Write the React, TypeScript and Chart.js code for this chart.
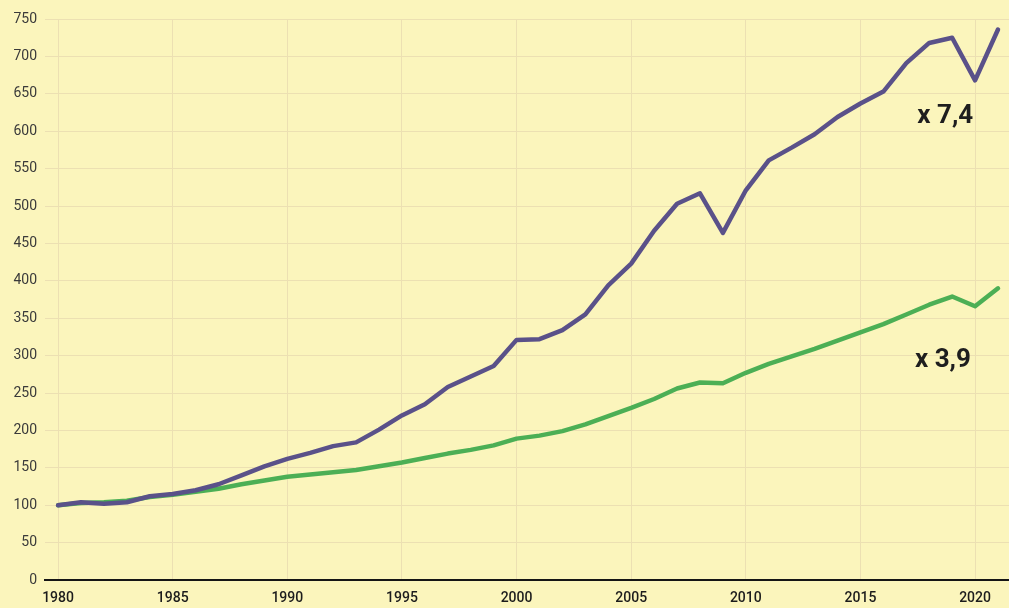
import React, { useEffect, useRef } from "react";
import { Chart, registerables } from "chart.js";

Chart.register(...registerables);

const years = [
  1980, 1981, 1982, 1983, 1984, 1985, 1986, 1987, 1988, 1989,
  1990, 1991, 1992, 1993, 1994, 1995, 1996, 1997, 1998, 1999,
  2000, 2001, 2002, 2003, 2004, 2005, 2006, 2007, 2008, 2009,
  2010, 2011, 2012, 2013, 2014, 2015, 2016, 2017, 2018, 2019,
  2020, 2021,
];

const purpleSeries = [
  100, 104, 102, 104, 112, 115, 120, 128, 140, 152,
  162, 170, 179, 184, 201, 220, 235, 258, 272, 286,
  321, 322, 334, 355, 394, 423, 467, 503, 517, 464,
  521, 561, 578, 596, 619, 637, 653, 691, 718, 725,
  668, 736,
];

const greenSeries = [
  100, 103, 104, 106, 111, 114, 118, 122, 128, 133,
  138, 141, 144, 147, 152, 157, 163, 169, 174, 180,
  189, 193, 199, 208, 219, 230, 242, 256, 264, 263,
  277, 289, 299, 309, 320, 331, 342, 355, 368, 379,
  366, 390,
];

const xTicks = [1980, 1985, 1990, 1995, 2000, 2005, 2010, 2015, 2020];

const annotations = [
  { text: "x 7,4", year: 2018.7, value: 619 },
  { text: "x 3,9", year: 2018.6, value: 294 },
];

const BG = "#fbf5bc";

export default function App() {
  const ref = useRef<HTMLCanvasElement | null>(null);

  useEffect(() => {
    document.body.style.margin = "0";
    document.body.style.background = BG;
    const canvas = ref.current;
    if (!canvas) return;

    const annotationPlugin = {
      id: "annot",
      afterDatasetsDraw(chart: any) {
        const ctx = chart.ctx;
        const xs = chart.scales.x;
        const ys = chart.scales.y;
        ctx.save();
        ctx.fillStyle = "#1e1e1e";
        ctx.font = "bold 26px Roboto";
        ctx.textAlign = "center";
        ctx.textBaseline = "middle";
        for (const a of annotations) {
          ctx.fillText(a.text, xs.getPixelForValue(a.year), ys.getPixelForValue(a.value));
        }
        ctx.restore();
      },
    };

    const bgPlugin = {
      id: "bg",
      beforeDraw(chart: any) {
        const ctx = chart.ctx;
        ctx.save();
        ctx.fillStyle = BG;
        ctx.fillRect(0, 0, chart.width, chart.height);
        ctx.restore();
      },
    };

    const chart = new Chart(canvas, {
      type: "line",
      data: {
        datasets: [
          {
            data: purpleSeries.map((v, i) => ({ x: years[i], y: v })),
            borderColor: "#5a5189",
            borderWidth: 4.5,
            pointRadius: 0,
            tension: 0,
            borderJoinStyle: "round",
            borderCapStyle: "round",
          },
          {
            data: greenSeries.map((v, i) => ({ x: years[i], y: v })),
            borderColor: "#4caf55",
            borderWidth: 4.5,
            pointRadius: 0,
            tension: 0,
            borderJoinStyle: "round",
            borderCapStyle: "round",
          },
        ],
      },
      options: {
        animation: false,
        responsive: false,
        devicePixelRatio: 1,
        layout: { padding: { top: 19, right: 0, left: 0, bottom: 0 } },
        plugins: { legend: { display: false }, tooltip: { enabled: false } },
        scales: {
          x: {
            type: "linear",
            min: 1979.43,
            max: 2021.48,
            afterBuildTicks: (scale: any) => {
              scale.ticks = xTicks.map((v) => ({ value: v }));
            },
            afterFit: (scale: any) => {
              scale.height = 28;
            },
            grid: { color: "#ece0b2", lineWidth: 1, drawTicks: false },
            border: { display: true, color: "#151515", width: 2 },
            ticks: {
              color: "#1c1c1c",
              font: { family: "Roboto", size: 14, weight: "500" },
              padding: 10,
              maxRotation: 0,
              autoSkip: false,
              callback: (v: any) => String(v),
            },
          },
          y: {
            min: 0,
            max: 750,
            afterFit: (scale: any) => {
              scale.width = 45;
            },
            grid: { color: "#ece0b2", lineWidth: 1, drawTicks: false },
            border: { display: false },
            ticks: {
              stepSize: 50,
              color: "#3a3a3a",
              font: { family: "Roboto", size: 14 },
              padding: 8,
            },
          },
        },
      },
      plugins: [bgPlugin, annotationPlugin],
    } as any);

    return () => chart.destroy();
  }, []);

  return (
    <div style={{ position: "absolute", left: 0, top: 0, width: 1009, height: 608, background: BG }}>
      <canvas ref={ref} width={1009} height={608} style={{ width: 1009, height: 608, display: "block" }} />
    </div>
  );
}
